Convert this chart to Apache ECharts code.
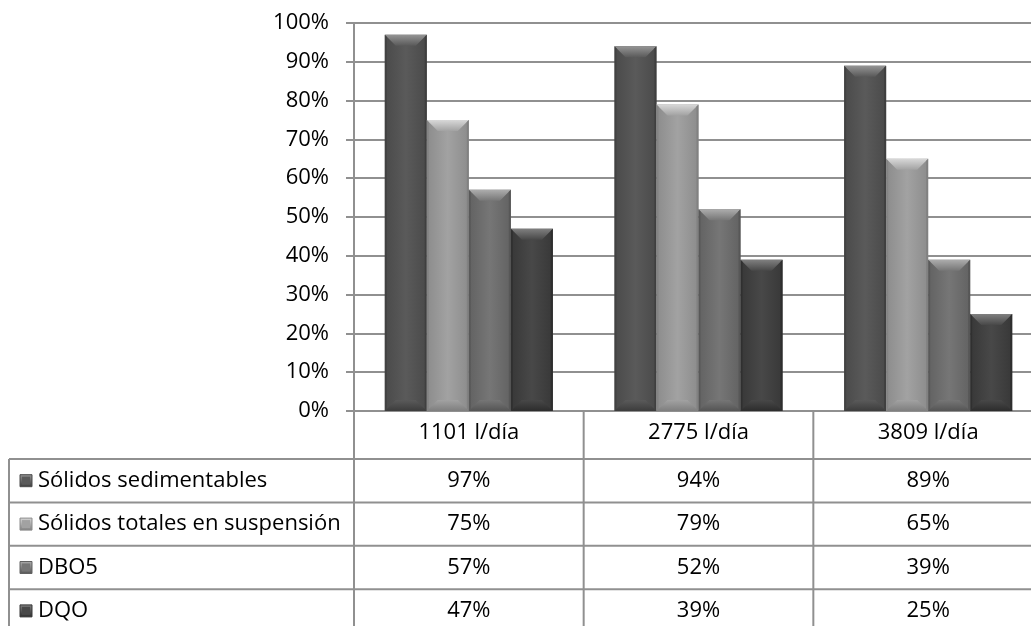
<!DOCTYPE html>
<html>
<head>
<meta charset="utf-8">
<script src="https://cdn.jsdelivr.net/npm/echarts@6/dist/echarts.min.js"></script>
<style>
  html, body { margin: 0; padding: 0; background: #ffffff; }
  #chart { width: 1031px; height: 626px; }
</style>
</head>
<body>
<div id="chart"></div>
<script>
// Removal efficiency by flow rate
const categories = ['1101 l/día', '2775 l/día', '3809 l/día'];
const seriesNames = ['Sólidos sedimentables', 'Sólidos totales en suspensión', 'DBO5', 'DQO'];
const solidosSedimentables = [97, 94, 89];
const solidosTotales = [75, 79, 65];
const dbo5 = [57, 52, 39];
const dqo = [47, 39, 25];
const yMin = 0, yMax = 100, yStep = 10;

const seriesValues = [solidosSedimentables, solidosTotales, dbo5, dqo];

// face / top bevel / bottom bevel shades for each series
const shades = [
  { face: '#5a5a5a', light: '#959595', dark: '#3c3c3c', edge: '#4a4a4a' },
  { face: '#a2a2a2', light: '#d8d8d8', dark: '#7e7e7e', edge: '#8c8c8c' },
  { face: '#767676', light: '#adadad', dark: '#545454', edge: '#626262' },
  { face: '#484848', light: '#808080', dark: '#2c2c2c', edge: '#383838' }
];

const FONT = '"Open Sans", "Noto Sans", sans-serif';
const FS = 22;
const LINE = '#909090';
const BAR_RATIO = 0.183;   // share of the category band taken by one bar
const BEVEL = 11;

const chart = echarts.init(document.getElementById('chart'), null, { renderer: 'canvas' });

function vGrad(a, b) {
  return new echarts.graphic.LinearGradient(0, 0, 0, 1, [{ offset: 0, color: a }, { offset: 1, color: b }]);
}
function hGrad(a, b, c) {
  return new echarts.graphic.LinearGradient(0, 0, 1, 0, [
    { offset: 0, color: a }, { offset: 0.5, color: b }, { offset: 1, color: c }
  ]);
}

function makeRender(si) {
  const s = shades[si];
  return function (params, api) {
    const c = api.value(0), v = api.value(1);
    const p0 = api.coord([c, 0]);
    const p1 = api.coord([c, v]);
    const band = api.size([1, 0])[0];
    const bw = band * BAR_RATIO;
    const x = p0[0] + (si - 2) * bw;
    const yT = p1[1], yB = p0[1];
    const b = Math.min(BEVEL, (yB - yT) / 2, bw / 3);
    const x2 = x + bw;
    return {
      type: 'group',
      children: [
        {
          type: 'rect',
          shape: { x: x, y: yT, width: bw, height: yB - yT },
          style: { fill: hGrad(s.edge, s.face, s.edge), shadowBlur: 6, shadowColor: 'rgba(0,0,0,0.35)', shadowOffsetX: 1 }
        },
        {
          type: 'polygon',
          shape: { points: [[x, yT], [x2, yT], [x2 - b, yT + b], [x + b, yT + b]] },
          style: { fill: vGrad(s.light, s.face) }
        },
        {
          type: 'polygon',
          shape: { points: [[x, yB], [x2, yB], [x2 - b, yB - b], [x + b, yB - b]] },
          style: { fill: vGrad(s.face, s.dark) }
        },
        {
          type: 'polygon',
          shape: { points: [[x, yT], [x + 2, yT + 2], [x + 2, yB - 2], [x, yB]] },
          style: { fill: s.dark, opacity: 0.6 }
        },
        {
          type: 'polygon',
          shape: { points: [[x2, yT], [x2 - 2, yT + 2], [x2 - 2, yB - 2], [x2, yB]] },
          style: { fill: s.dark, opacity: 0.8 }
        }
      ]
    };
  };
}

const option = {
  animation: false,
  backgroundColor: '#ffffff',
  textStyle: { fontFamily: FONT },
  grid: { left: 354, top: 23, width: 689, bottom: 215, containLabel: false, outerBoundsMode: 'none' },
  xAxis: {
    type: 'category',
    data: categories,
    axisLine: { show: true, lineStyle: { color: LINE, width: 2 } },
    axisTick: { show: false },
    axisLabel: { fontSize: FS, color: '#000', margin: 11, fontFamily: FONT },
    splitLine: { show: false }
  },
  yAxis: {
    type: 'value',
    min: yMin, max: yMax, interval: yStep,
    axisLine: { show: true, lineStyle: { color: LINE, width: 2 } },
    axisTick: { show: true, length: 8, lineStyle: { color: LINE, width: 2 } },
    axisLabel: { fontSize: FS, color: '#000', margin: 25, formatter: '{value}%', fontFamily: FONT },
    splitLine: { show: true, lineStyle: { color: LINE, width: 2 } }
  },
  series: seriesValues.map((vals, si) => ({
    type: 'custom',
    name: seriesNames[si],
    renderItem: makeRender(si),
    encode: { x: 0, y: 1 },
    data: vals.map((v, i) => [i, v]),
    z: 3
  }))
};

chart.setOption(option);

// Data table under the plot, aligned to the category bands
function buildTable() {
  const yBase = chart.convertToPixel({ yAxisIndex: 0 }, 0);
  const c0 = chart.convertToPixel({ xAxisIndex: 0 }, 0);
  const c1 = chart.convertToPixel({ xAxisIndex: 0 }, 1);
  const band = c1 - c0;
  const leftEdge = c0 - band / 2;
  const headerH = 48;
  const rowH = 43.4;
  const tableLeft = 9;
  const H = 626;
  const els = [];
  const firstRow = yBase + headerH;

  // horizontal rules
  for (let r = 0; r < seriesNames.length + 1; r++) {
    const y = firstRow + r * rowH;
    els.push({ type: 'line', shape: { x1: tableLeft, y1: y, x2: 1031, y2: y }, style: { stroke: LINE, lineWidth: 2 } });
  }
  // left border of the label column
  els.push({ type: 'line', shape: { x1: tableLeft, y1: firstRow, x2: tableLeft, y2: H }, style: { stroke: LINE, lineWidth: 2 } });
  // column dividers
  for (let k = 0; k <= categories.length; k++) {
    const x = leftEdge + k * band;
    els.push({ type: 'line', shape: { x1: x, y1: yBase, x2: x, y2: H }, style: { stroke: LINE, lineWidth: 2 } });
  }

  seriesNames.forEach((name, si) => {
    const yc = firstRow + si * rowH + rowH / 2;
    const s = shades[si];
    // legend key
    els.push({
      type: 'rect', shape: { x: 20, y: yc - 6, width: 12, height: 12 },
      style: { fill: vGrad(s.light, s.dark), stroke: s.edge, lineWidth: 1 }
    });
    els.push({
      type: 'rect', shape: { x: 22, y: yc - 4, width: 8, height: 8 },
      style: { fill: s.face }
    });
    els.push({
      type: 'text', x: 38, y: yc,
      style: { text: name, font: FS + 'px ' + FONT, fill: '#000', textAlign: 'left', textVerticalAlign: 'middle' }
    });
    seriesValues[si].forEach((v, ci) => {
      els.push({
        type: 'text', x: c0 + ci * band, y: yc,
        style: { text: v + '%', font: FS + 'px ' + FONT, fill: '#000', textAlign: 'center', textVerticalAlign: 'middle' }
      });
    });
  });

  chart.setOption({ graphic: els.map(e => Object.assign({ silent: true, z: 10 }, e)) });
}
buildTable();
</script>
</body>
</html>
